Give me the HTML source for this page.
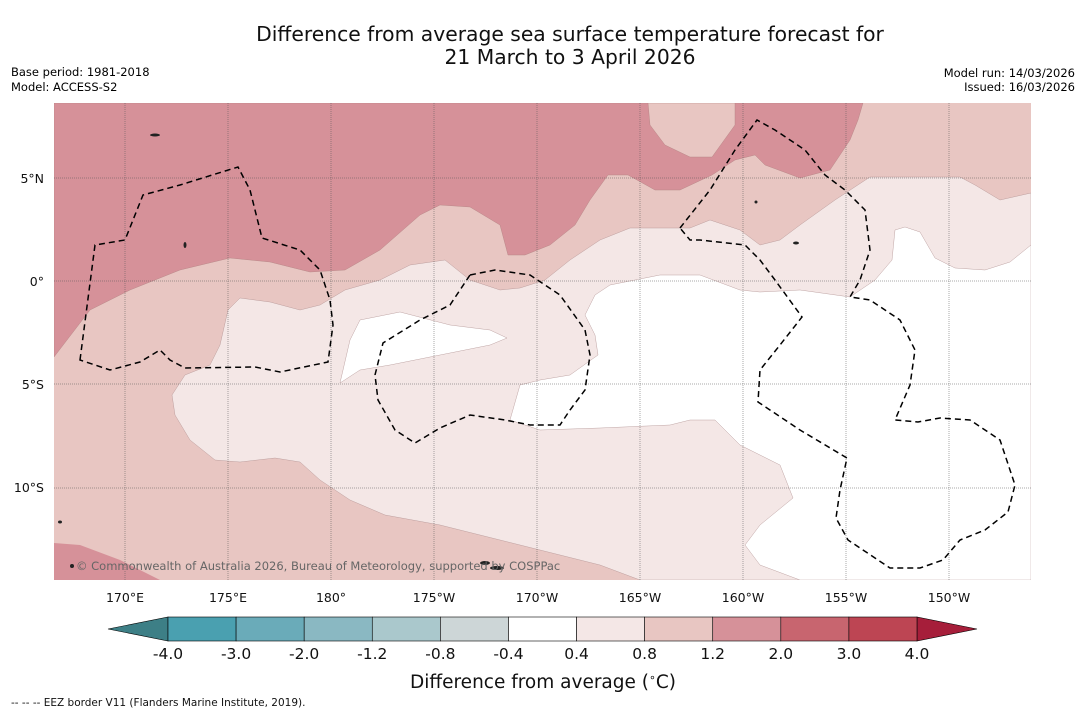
<!DOCTYPE html>
<html><head><meta charset="utf-8"><style>
body{margin:0;background:#ffffff;width:1085px;height:713px;overflow:hidden;font-family:"DejaVu Sans","Liberation Sans",sans-serif;}
svg{position:absolute;left:0;top:0}
</style></head><body>
<svg width="1085" height="713">
<text x="570" y="41" font-size="20.3" text-anchor="middle" fill="#111">Difference from average sea surface temperature forecast for</text>
<text x="570" y="64" font-size="20.3" text-anchor="middle" fill="#111">21 March to 3 April 2026</text>
<text x="11" y="76" font-size="11.5">Base period: 1981-2018</text>
<text x="11" y="91" font-size="11.5">Model: ACCESS-S2</text>
<text x="1075" y="77" font-size="11.5" text-anchor="end">Model run: 14/03/2026</text>
<text x="1075" y="91" font-size="11.5" text-anchor="end">Issued: 16/03/2026</text>
<defs><clipPath id="mc"><rect x="54" y="103" width="977" height="477"/></clipPath></defs>
<g clip-path="url(#mc)">
<rect x="54" y="103" width="977" height="477" fill="#e8c6c2"/>
<path fill="#d69199" stroke="#b08080" stroke-width="0.4" d="M54,103 L54,357 L90,310 L130,290 L180,270 L230,258 L270,262 L310,272 L345,270 L380,250 L420,215 L440,205 L470,207 L500,225 L508,255 L525,255 L550,245 L575,225 L590,200 L608,175 L628,175 L655,190 L680,190 L712,175 L735,160 L755,155 L765,165 L800,178 L830,170 L850,140 L858,120 L863,103 Z"/>
<path fill="#e8c6c2" stroke="#b08080" stroke-width="0.4" d="M648,103 L650,125 L665,145 L690,157 L712,157 L735,125 L735,103 Z"/>
<path fill="#d69199" d="M54,543 L80,545 L120,560 L160,580 L54,580 Z"/>
<path fill="#f4e7e6" stroke="#b09090" stroke-width="0.4" d="M1031,193 L1000,200 L975,185 L960,177 L870,177 L835,200 L800,225 L780,240 L760,245 L740,230 L710,220 L690,228 L630,228 L600,240 L570,260 L545,280 L520,288 L500,290 L470,280 L445,260 L410,265 L380,280 L345,290 L320,305 L300,310 L270,302 L240,298 L228,310 L220,345 L210,365 L185,375 L172,395 L175,415 L190,440 L215,460 L240,462 L275,458 L300,462 L320,480 L350,500 L385,515 L440,525 L500,540 L560,555 L600,565 L640,580 L1031,580 Z"/>
<path fill="#ffffff" stroke="#b09090" stroke-width="0.4" d="M1031,245 L1010,262 L985,270 L955,268 L935,258 L920,232 L905,227 L895,230 L892,260 L875,280 L850,297 L800,290 L760,292 L740,290 L700,275 L660,275 L610,285 L595,295 L585,315 L595,335 L598,355 L570,375 L540,380 L520,385 L510,420 L540,430 L600,428 L670,425 L690,420 L715,420 L740,445 L780,465 L793,498 L760,525 L745,545 L760,565 L800,580 L1031,580 Z"/>
<path fill="#ffffff" stroke="#b09090" stroke-width="0.4" d="M360,320 L400,312 L450,325 L490,330 L507,338 L490,345 L440,355 L390,365 L360,370 L340,383 L350,340 Z"/>
<g stroke="#555" stroke-width="0.5" stroke-dasharray="1,1">
<line x1="125" y1="103" x2="125" y2="580"/><line x1="228" y1="103" x2="228" y2="580"/><line x1="331" y1="103" x2="331" y2="580"/><line x1="434" y1="103" x2="434" y2="580"/><line x1="537" y1="103" x2="537" y2="580"/><line x1="640" y1="103" x2="640" y2="580"/><line x1="743" y1="103" x2="743" y2="580"/><line x1="846" y1="103" x2="846" y2="580"/><line x1="949" y1="103" x2="949" y2="580"/>
<line x1="54" y1="178" x2="1031" y2="178"/><line x1="54" y1="281" x2="1031" y2="281"/><line x1="54" y1="384" x2="1031" y2="384"/><line x1="54" y1="488" x2="1031" y2="488"/>
</g>
<g fill="none" stroke="#000" stroke-width="1.5" stroke-dasharray="6,4">
<path d="M80,360 L95,245 L125,240 L143,195 L180,185 L238,167 L250,190 L262,238 L300,250 L320,270 L330,300 L333,325 L328,362 L280,372 L255,367 L185,368 L170,360 L160,350 L140,362 L110,370 Z"/>
<path d="M470,275 L495,270 L530,275 L560,295 L585,330 L590,355 L585,390 L570,410 L560,425 L530,425 L505,420 L470,415 L440,428 L415,443 L395,430 L378,400 L375,375 L383,343 L420,320 L450,305 Z"/>
<path d="M680,228 L710,190 L735,150 L757,120 L775,130 L805,150 L825,175 L845,190 L865,210 L870,250 L860,280 L850,297 L870,300 L900,320 L915,350 L910,385 L895,420 L918,422 L940,418 L970,420 L1000,440 L1015,485 L1008,512 L985,530 L960,540 L943,560 L920,568 L890,568 L848,540 L836,518 L840,490 L847,458 L800,430 L758,402 L760,370 L780,345 L802,317 L775,280 L760,260 L745,245 L700,240 L690,240 Z"/>
</g>
<g fill="#222">
<ellipse cx="155" cy="135" rx="5" ry="1.5"/><ellipse cx="185" cy="245" rx="1.5" ry="3"/><ellipse cx="497" cy="568" rx="7" ry="2"/><ellipse cx="485" cy="563" rx="5" ry="2"/><ellipse cx="60" cy="522" rx="2" ry="1.5"/><ellipse cx="796" cy="243" rx="3" ry="1.5"/><ellipse cx="756" cy="202" rx="1.5" ry="1.5"/><ellipse cx="72" cy="566" rx="2" ry="2"/>
</g>
<text x="76" y="570" font-size="11.5" fill="#666">© Commonwealth of Australia 2026, Bureau of Meteorology, supported by COSPPac</text>
</g>
<g id="axislabels" font-size="12.5" fill="#111"></g>
<g id="cbar"></g>
<text x="543" y="688" font-size="18.5" text-anchor="middle" fill="#111">Difference from average (<tspan font-size="11" dy="-7">∘</tspan><tspan dy="7">C)</tspan></text>
<text x="11" y="706" font-size="10.5" fill="#111">--  --  -- EEZ border V11 (Flanders Marine Institute, 2019).</text>
</svg>
<script>
const lonTicks=["170°E","175°E","180°","175°W","170°W","165°W","160°W","155°W","150°W"];
const lonVals=[170,175,180,185,190,195,200,205,210];
const latTicks=["5°N","0°","5°S","10°S"];
const latVals=[5,0,-5,-10];
const levels=[-4.0,-3.0,-2.0,-1.2,-0.8,-0.4,0.4,0.8,1.2,2.0,3.0,4.0];
const levelColors=["#4aa0b0","#6aabb9","#8ab8c2","#aac8cc","#cdd6d7","#ffffff","#f4e7e6","#e8c6c2","#d69199","#c8656f","#bd4553"];
const ns="http://www.w3.org/2000/svg";
const xLon=l=>125+(l-170)*20.6, yLat=l=>281-l*20.6;
const ax=document.getElementById('axislabels');
lonVals.forEach((v,i)=>{const t=document.createElementNS(ns,'text');t.setAttribute('x',xLon(v));t.setAttribute('y',602);t.setAttribute('text-anchor','middle');t.textContent=lonTicks[i];


ax.appendChild(t);});
latVals.forEach((v,i)=>{const t=document.createElementNS(ns,'text');t.setAttribute('x',44);t.setAttribute('y',yLat(v)+5);t.setAttribute('text-anchor','end');t.textContent=latTicks[i];


ax.appendChild(t);});
const cb=document.getElementById('cbar');
const x0=168,x1=917,y0=617,h=24,n=levelColors.length,w=(x1-x0)/n;
const L=document.createElementNS(ns,'polygon');L.setAttribute('points',`${x0},${y0} ${x0},${y0+h} 108,${y0+h/2}`);L.setAttribute('fill','#3d7f86');L.setAttribute('stroke','#000');L.setAttribute('stroke-width','0.6');


cb.appendChild(L);
const R=document.createElementNS(ns,'polygon');R.setAttribute('points',`${x1},${y0} ${x1},${y0+h} 977,${y0+h/2}`);R.setAttribute('fill','#a61e3a');R.setAttribute('stroke','#000');R.setAttribute('stroke-width','0.6');


cb.appendChild(R);
levelColors.forEach((c,i)=>{const r=document.createElementNS(ns,'rect');r.setAttribute('x',x0+i*w);r.setAttribute('y',y0);r.setAttribute('width',w);r.setAttribute('height',h);r.setAttribute('fill',c);r.setAttribute('stroke','#000');r.setAttribute('stroke-width','0.6');


cb.appendChild(r);});
levels.forEach((v,i)=>{const t=document.createElementNS(ns,'text');t.setAttribute('x',x0+i*w);t.setAttribute('y',659);t.setAttribute('text-anchor','middle');t.setAttribute('font-size','15.5');t.setAttribute('fill','#111');t.textContent=v.toFixed(1);


cb.appendChild(t);});
</script>
</body></html>
